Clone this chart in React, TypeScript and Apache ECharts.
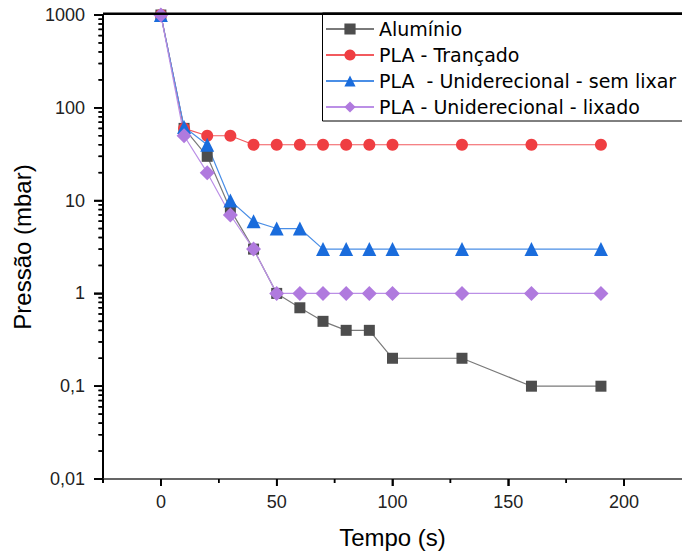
import React, { useEffect, useRef } from "react";
import * as echarts from "echarts";

const tempos = [0, 10, 20, 30, 40, 50, 60, 70, 80, 90, 100, 130, 160, 190];
const aluminio = [1000, 60, 30, 8, 3, 1, 0.7, 0.5, 0.4, 0.4, 0.2, 0.2, 0.1, 0.1];
const plaTrancado = [1000, 60, 50, 50, 40, 40, 40, 40, 40, 40, 40, 40, 40, 40];
const plaSemLixar = [1000, 62, 40, 10, 6, 5, 5, 3, 3, 3, 3, 3, 3, 3];
const plaLixado = [1000, 50, 20, 7, 3, 1, 1, 1, 1, 1, 1, 1, 1, 1];

const X_MIN = -25;
const X_MAX = 225;
const Y_MIN = 0.01;
const Y_MAX = 1000;
const xMajorTicks = [0, 50, 100, 150, 200];
const xMinorTicks = [25, 75, 125, 175];
const yMajorTicks = [0.01, 0.1, 1, 10, 100, 1000];
const yMinorTicks: number[] = [];
for (let d = -2; d < 3; d++) {
  for (let k = 2; k <= 9; k++) yMinorTicks.push(k * Math.pow(10, d));
}

const FONT = "'Liberation Sans', Arial, sans-serif";
const LEGEND_FONT = "'DejaVu Sans', Verdana, sans-serif";
const TICK_COLOR = "#000";
const TICK_WIDTH = 1.5;

const seriesDefs = [
  { name: "Alumínio", data: aluminio, symbol: "rect", size: 11, color: "#4d4d4d", line: "#7a7a7a" },
  { name: "PLA - Trançado", data: plaTrancado, symbol: "circle", size: 12, color: "#ef3e42", line: "#f25a5e" },
  { name: "PLA  - Uniderecional - sem lixar", data: plaSemLixar, symbol: "triangle", size: 14, color: "#1a6cdc", line: "#4a8ee6" },
  { name: "PLA - Uniderecional - lixado", data: plaLixado, symbol: "diamond", size: 15, color: "#b07ade", line: "#bb8fe6" },
];

const tickList: { x: number; y: number; len: number; isY: boolean }[] = [
  ...xMajorTicks.map((v) => ({ x: v, y: Y_MIN, len: 7, isY: false })),
  ...xMinorTicks.map((v) => ({ x: v, y: Y_MIN, len: 4, isY: false })),
  ...yMajorTicks.map((v) => ({ x: X_MIN, y: v, len: 9, isY: true })),
  ...yMinorTicks.map((v) => ({ x: X_MIN, y: v, len: 4.5, isY: true })),
];

const baseGraphics: any[] = [
  { type: "line", shape: { x1: 103, y1: 13.7, x2: 682, y2: 13.7 }, style: { stroke: "#000", lineWidth: 2.5 }, z: 10 },
  { type: "rect", shape: { x: 322.5, y: 13, width: 400, height: 108 }, style: { fill: "none", stroke: "#000", lineWidth: 1 }, z: 10 },
  { type: "line", shape: { x1: 103, y1: 479, x2: 103, y2: 483 }, style: { stroke: "#000", lineWidth: 2 }, z: 10 },
];

function tickSeries(name: string, data: number[][], len: number, isY: boolean) {
  return {
    name,
    type: "custom",
    clip: false,
    silent: true,
    z: 5,
    data,
    renderItem: (params: any, api: any) => {
      const c = api.coord([api.value(0), api.value(1)]);
      return {
        type: "line",
        shape: isY
          ? { x1: c[0] - len, y1: c[1], x2: c[0], y2: c[1] }
          : { x1: c[0], y1: c[1], x2: c[0], y2: c[1] + len },
        style: { stroke: TICK_COLOR, lineWidth: TICK_WIDTH },
      };
    },
  };
}

export default function App() {
  const ref = useRef<HTMLDivElement>(null);
  useEffect(() => {
    const chart = echarts.init(ref.current!, null, { renderer: "svg" });
    chart.setOption({
      animation: false,
      backgroundColor: "#fff",
      grid: { left: 103, right: 0, top: 15, bottom: 73, outerBoundsMode: "none" },
      xAxis: {
        type: "value",
        min: X_MIN,
        max: X_MAX,
        name: "Tempo (s)",
        nameLocation: "middle",
        nameGap: 46,
        nameTextStyle: { fontFamily: FONT, fontSize: 24, color: "#000" },
        axisLine: { show: true, onZero: false, lineStyle: { color: "#333", width: 1.5 } },
        axisTick: { show: true, inside: false, length: 7, customValues: xMajorTicks, lineStyle: { color: TICK_COLOR, width: TICK_WIDTH } },
        axisLabel: { show: true, customValues: xMajorTicks, margin: 14, fontFamily: FONT, fontSize: 18, color: "#222" },
        splitLine: { show: false },
      },
      yAxis: {
        type: "log",
        min: Y_MIN,
        max: Y_MAX,
        name: "Pressão (mbar)",
        nameLocation: "middle",
        nameGap: 66,
        nameTextStyle: { fontFamily: FONT, fontSize: 24, color: "#000" },
        axisLine: { show: true, onZero: false, lineStyle: { color: "#000", width: 2 } },
        axisTick: { show: true, inside: false, length: 9, lineStyle: { color: TICK_COLOR, width: TICK_WIDTH } },
        axisLabel: {
          margin: 18,
          fontFamily: FONT,
          fontSize: 18,
          color: "#222",
          formatter: (v: number) => String(v).replace(".", ","),
        },
        splitLine: { show: false },
      },
      legend: {
        orient: "vertical",
        left: 325,
        top: 19,
        padding: 0,
        itemWidth: 48,
        itemHeight: 14,
        itemGap: 6,
        textStyle: { fontFamily: LEGEND_FONT, fontSize: 19, lineHeight: 20, color: "#000" },
        data: seriesDefs.map((s) => s.name),
      },
      graphic: baseGraphics,
      series: [
        ...seriesDefs.map((s) => ({
          name: s.name,
          type: "line",
          data: tempos.map((t, i) => [t, s.data[i]]),
          symbol: s.symbol,
          symbolSize: s.size,
          showAllSymbol: true,
          itemStyle: { color: s.color, borderWidth: 0 },
          lineStyle: { color: s.line, width: 1.2 },
          z: 3,
        })),
        tickSeries("xMajor", xMajorTicks.map((v) => [v, Y_MIN]), 7, false),
        tickSeries("xMinor", xMinorTicks.map((v) => [v, Y_MIN]), 4, false),
        tickSeries("yMajor", yMajorTicks.map((v) => [X_MIN, v]), 9, true),
        tickSeries("yMinor", yMinorTicks.map((v) => [X_MIN, v]), 4.5, true),
      ],
    });

    try {
      const tickGraphics: any[] = [];
      tickList.forEach((t) => {
        const p = chart.convertToPixel({ gridIndex: 0 }, [t.x, t.y]) as any;
        if (p && isFinite(p[0]) && isFinite(p[1])) {
          tickGraphics.push({
            type: "line",
            shape: t.isY
              ? { x1: p[0] - t.len, y1: p[1], x2: p[0], y2: p[1] }
              : { x1: p[0], y1: p[1], x2: p[0], y2: p[1] + t.len },
            style: { stroke: TICK_COLOR, lineWidth: TICK_WIDTH },
            z: 10,
          });
        }
      });
      chart.setOption({ graphic: [...baseGraphics, ...tickGraphics] });
    } catch (e) {
      // keep the chart as drawn
    }

    return () => chart.dispose();
  }, []);
  return <div ref={ref} style={{ width: 682, height: 552, position: "absolute", left: 0, top: 0 }} />;
}
